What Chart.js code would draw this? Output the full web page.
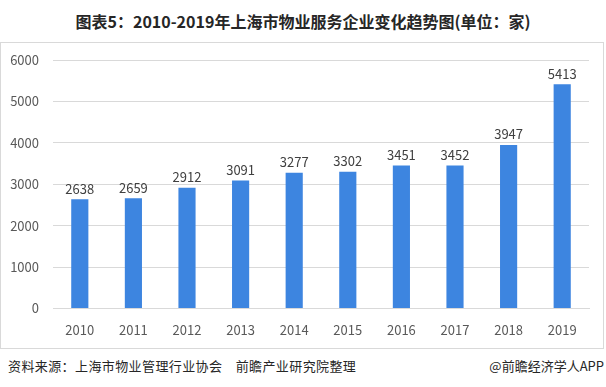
<!DOCTYPE html>
<html>
<head>
<meta charset="utf-8">
<script src="https://cdn.jsdelivr.net/npm/chart.js@4"></script>
<style>
  html, body { margin: 0; padding: 0; background: #fff; }
  body { width: 606px; height: 387px; position: relative; overflow: hidden;
         font-family: "Noto Sans CJK SC", "Noto Sans", sans-serif; }
  #title { position: absolute; left: 0; top: 9px; width: 606px; text-align: center;
           font-size: 16px; font-weight: bold; color: #262626; }
  #frame { position: absolute; left: 0; top: 42px; width: 602px; height: 305px;
           border: 1px solid #d9d9d9; }
  #src { position: absolute; left: 8px; top: 356px; font-size: 13px; color: #262626; letter-spacing: 0.4px; }
  #brand { position: absolute; right: 2px; top: 356px; font-size: 13px; color: #262626; }
</style>
</head>
<body>
<div id="title">图表5：2010-2019年上海市物业服务企业变化趋势图(单位：家)</div>
<div id="frame"><canvas id="chart" width="602" height="305"></canvas></div>
<div id="src">资料来源：上海市物业管理行业协会&nbsp;&nbsp;&nbsp;&nbsp;前瞻产业研究院整理</div>
<div id="brand">@前瞻经济学人APP</div>
<script>
// years and number of property service companies
const years = ['2010', '2011', '2012', '2013', '2014', '2015', '2016', '2017', '2018', '2019'];
const companies = [2638, 2659, 2912, 3091, 3277, 3302, 3451, 3452, 3947, 5413];
const yTicks = [0, 1000, 2000, 3000, 4000, 5000, 6000];

const textColor = '#595959';
const fontFamily = "'Noto Sans CJK SC', 'Noto Sans', sans-serif";

// value labels above each bar
const valueLabels = {
  id: 'valueLabels',
  afterDatasetsDraw(chart) {
    const ctx = chart.ctx;
    const meta = chart.getDatasetMeta(0);
    ctx.save();
    ctx.font = '13px ' + fontFamily;
    ctx.fillStyle = '#404040';
    ctx.textAlign = 'center';
    ctx.textBaseline = 'bottom';
    meta.data.forEach((bar, i) => {
      ctx.fillText(String(companies[i]), bar.x, bar.y - 4);
    });
    ctx.restore();
  }
};

new Chart(document.getElementById('chart').getContext('2d'), {
  type: 'bar',
  data: {
    labels: years,
    datasets: [{
      data: companies,
      backgroundColor: '#3d85e0',
      categoryPercentage: 1,
      barPercentage: 0.32
    }]
  },
  options: {
    responsive: false,
    animation: false,
    layout: { padding: { left: 0, right: 14, top: 17, bottom: 4 } },
    scales: {
      x: {
        grid: { display: false },
        border: { color: '#d9d9d9' },
        ticks: { color: textColor, font: { family: fontFamily, size: 13 }, padding: 6 }
      },
      y: {
        min: 0,
        max: 6000,
        afterBuildTicks: (axis) => { axis.ticks = yTicks.map(v => ({ value: v })); },
        afterFit: (axis) => { axis.width = 52; axis.paddingTop = 0; axis.paddingBottom = 0; },
        grid: { color: '#d9d9d9', drawTicks: false },
        border: { display: false },
        ticks: {
          color: textColor,
          font: { family: fontFamily, size: 13 },
          padding: 14,
          callback: (v) => String(v)
        }
      }
    },
    plugins: {
      legend: { display: false },
      tooltip: { enabled: false }
    }
  },
  plugins: [valueLabels]
});
</script>
</body>
</html>
